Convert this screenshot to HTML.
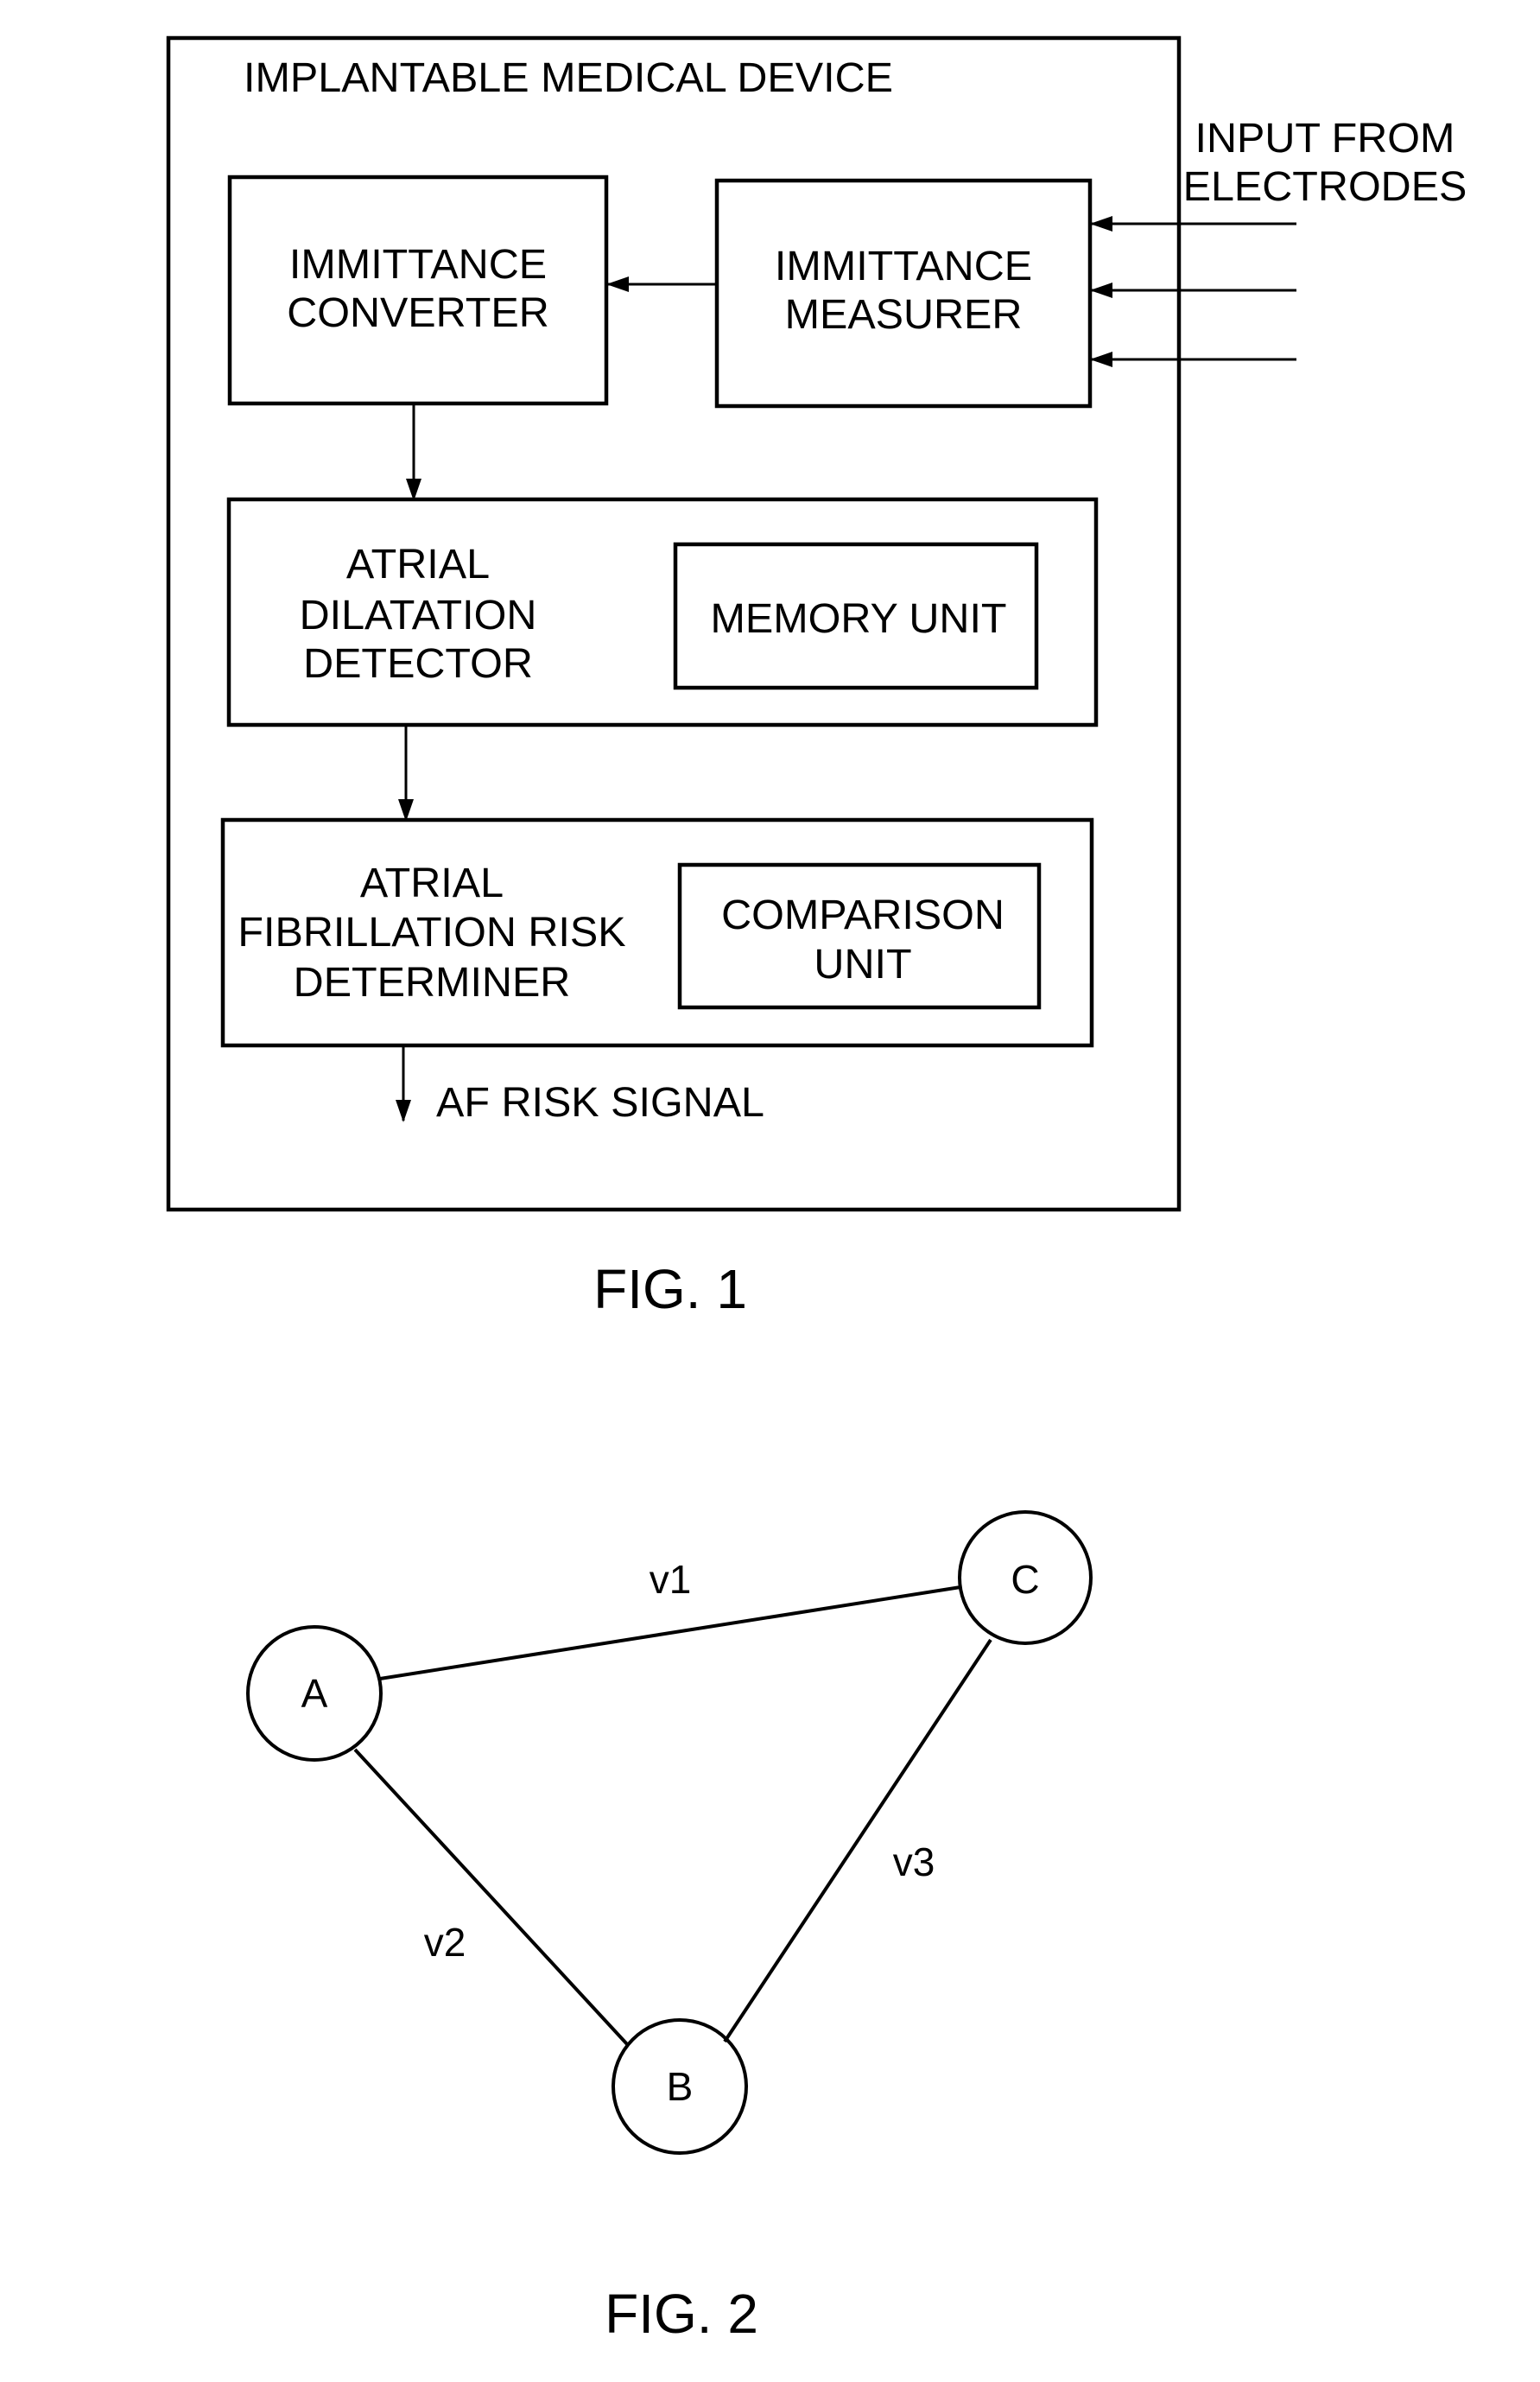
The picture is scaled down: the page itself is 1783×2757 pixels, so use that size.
<!DOCTYPE html>
<html><head><meta charset="utf-8"><style>
html,body{margin:0;padding:0;background:#fff;}
svg text{font-family:"Liberation Sans",Arial,sans-serif;fill:#000;}
</style></head><body>
<svg width="1783" height="2752" viewBox="0 0 1783 2752" xmlns="http://www.w3.org/2000/svg">
<defs>
<marker id="ab" markerWidth="26" markerHeight="26" refX="24" refY="13" orient="auto" markerUnits="userSpaceOnUse"><path d="M0,4 L26,13 L0,22 z" fill="#000"/></marker></defs>
<g fill="none" stroke="#000" stroke-width="4.5">
<rect x="195" y="44" width="1170" height="1356"/>
<rect x="266" y="205" width="436" height="262"/>
<rect x="830" y="209" width="432" height="261"/>
<rect x="265" y="578" width="1004" height="261"/>
<rect x="782" y="630" width="418" height="166"/>
<rect x="258" y="949" width="1006" height="261"/>
<rect x="787" y="1001" width="416" height="165"/>
</g>
<g stroke="#000" stroke-width="3" marker-end="url(#ab)">
<line x1="830" y1="329" x2="704" y2="329"/>
<line x1="1501" y1="259" x2="1264" y2="259"/>
<line x1="1501" y1="336" x2="1264" y2="336"/>
<line x1="1501" y1="416" x2="1264" y2="416"/>
<line x1="479" y1="467" x2="479" y2="578"/>
<line x1="470" y1="839" x2="470" y2="949"/>
<line x1="467" y1="1210" x2="467" y2="1297"/>
</g>
<g font-size="48.5" text-anchor="middle" dominant-baseline="central">
<text x="282" y="90" text-anchor="start">IMPLANTABLE MEDICAL DEVICE</text>
<text x="1534" y="160">INPUT FROM</text>
<text x="1534" y="216">ELECTRODES</text>
<text x="484" y="306">IMMITTANCE</text>
<text x="484" y="362">CONVERTER</text>
<text x="1046" y="308">IMMITTANCE</text>
<text x="1046" y="364">MEASURER</text>
<text x="484" y="653">ATRIAL</text>
<text x="484" y="712">DILATATION</text>
<text x="484" y="768">DETECTOR</text>
<text x="994" y="716">MEMORY UNIT</text>
<text x="500" y="1022">ATRIAL</text>
<text x="500" y="1079">FIBRILLATION RISK</text>
<text x="500" y="1137">DETERMINER</text>
<text x="999" y="1059">COMPARISON</text>
<text x="999" y="1116">UNIT</text>
<text x="505" y="1276" text-anchor="start">AF RISK SIGNAL</text>
<text x="776" y="1492" font-size="64">FIG. 1</text>
</g>
<g fill="none" stroke="#000" stroke-width="4">
<circle cx="364" cy="1960" r="77"/>
<circle cx="1187" cy="1826" r="76"/>
<circle cx="787" cy="2415" r="77"/>
<line x1="440" y1="1943" x2="1112" y2="1837"/>
<line x1="411" y1="2025" x2="726" y2="2366"/>
<line x1="1147" y1="1898" x2="839" y2="2363"/>
</g>
<g font-size="46" text-anchor="middle" dominant-baseline="central">
<text x="364" y="1960">A</text>
<text x="1187" y="1828">C</text>
<text x="787" y="2415">B</text>
<text x="776" y="1828">v1</text>
<text x="515" y="2248">v2</text>
<text x="1058" y="2155">v3</text>
<text x="789" y="2678" font-size="64">FIG. 2</text>
</g>
</svg>
</body></html>
